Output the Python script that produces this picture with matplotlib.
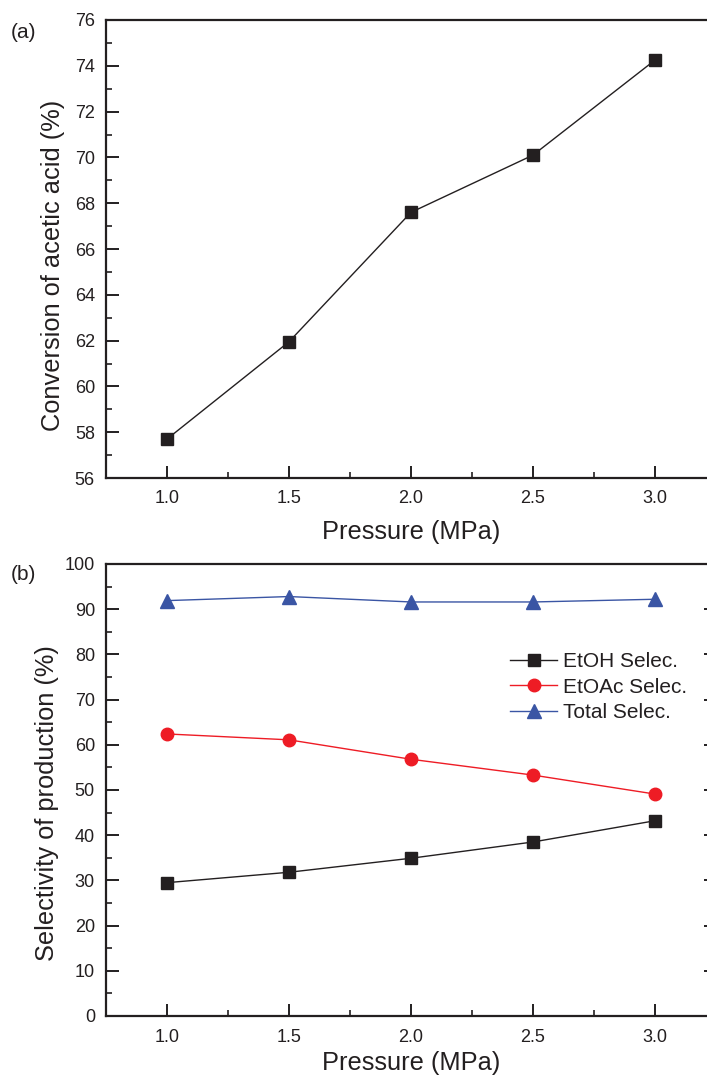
import matplotlib
matplotlib.use("Agg")
import matplotlib.pyplot as plt
from matplotlib.ticker import MultipleLocator

plt.rcParams['font.family'] = ['Liberation Sans', 'DejaVu Sans']

pressure = [1.0, 1.5, 2.0, 2.5, 3.0]
conversion = [57.7, 61.95, 67.6, 70.1, 74.25]
etoh_sel = [29.5, 31.8, 34.9, 38.5, 43.2]
etoac_sel = [62.4, 61.1, 56.8, 53.3, 49.1]
total_sel = [91.9, 92.8, 91.6, 91.6, 92.2]

W, H = 707, 1079
fig = plt.figure(figsize=(W/100, H/100), dpi=100)
INK = '#231f20'

def make_ax(top_px, bot_px):
    left = 106 / W
    right = 716 / W
    return fig.add_axes([left, 1 - bot_px / H, right - left, (bot_px - top_px) / H])

def style(ax, right_ticks):
    for s in ax.spines.values():
        s.set_linewidth(1.6)
        s.set_color(INK)
    ax.tick_params(which='major', direction='in', length=9, width=1.4,
                   labelsize=13, pad=8, colors=INK, top=False, right=False)
    ax.tick_params(which='minor', direction='in', length=4.5, width=1.2,
                   colors=INK, top=False, right=False)
    ax.tick_params(axis='x', which='major', pad=9)
    if right_ticks:
        ax.tick_params(axis='y', which='major', right=True, labelright=False)
    ax.set_xlim(0.75, 3.25)
    ax.xaxis.set_major_locator(MultipleLocator(0.5))
    ax.xaxis.set_minor_locator(MultipleLocator(0.25))
    ax.xaxis.set_major_formatter(plt.FuncFormatter(lambda v, p: f"{v:.1f}"))

ax1 = make_ax(20, 478)
style(ax1, False)
ax1.plot(pressure, conversion, color=INK, lw=1.0, marker='s', ms=8,
         mfc=INK, mec=INK)
ax1.set_ylim(56, 76)
ax1.yaxis.set_major_locator(MultipleLocator(2))
ax1.yaxis.set_minor_locator(MultipleLocator(1))
ax1.set_xlabel('Pressure (MPa)', fontsize=18.3, labelpad=9, color=INK)
ax1.set_ylabel('Conversion of acetic acid (%)', fontsize=18.3, labelpad=7, color=INK, y=0.465)
fig.text(11/W, 1 - 32/H, '(a)', fontsize=15, va='center', ha='left', color=INK)

ax2 = make_ax(564, 1016)
style(ax2, True)
ax2.plot(pressure, etoh_sel, color=INK, lw=1.0, marker='s', ms=8,
         mfc=INK, mec=INK, label='EtOH Selec.')
ax2.plot(pressure, etoac_sel, color='#ee1c25', lw=1.0, marker='o', ms=9,
         mfc='#ee1c25', mec='#ee1c25', label='EtOAc Selec.')
ax2.plot(pressure, total_sel, color='#3a55a4', lw=1.0, marker='^', ms=10,
         mfc='#3a55a4', mec='#3a55a4', label='Total Selec.')
ax2.set_ylim(0, 100)
ax2.yaxis.set_major_locator(MultipleLocator(10))
ax2.yaxis.set_minor_locator(MultipleLocator(5))
ax2.set_xlabel('Pressure (MPa)', fontsize=18.3, labelpad=4, color=INK)
ax2.set_ylabel('Selectivity of production (%)', fontsize=18.3, labelpad=4, color=INK, y=0.471)
fig.text(11/W, 1 - 574/H, '(b)', fontsize=15, va='center', ha='left', color=INK)

leg = ax2.legend(loc='upper left', bbox_to_anchor=((502 - 106) / 610, 1 - (644 - 564) / 452),
                 frameon=False, fontsize=15, handlelength=2.25, handletextpad=0.29,
                 labelspacing=0.3, borderaxespad=0, borderpad=0.4)
for t in leg.get_texts():
    t.set_color(INK)

fig.savefig('out.png', dpi=100)
